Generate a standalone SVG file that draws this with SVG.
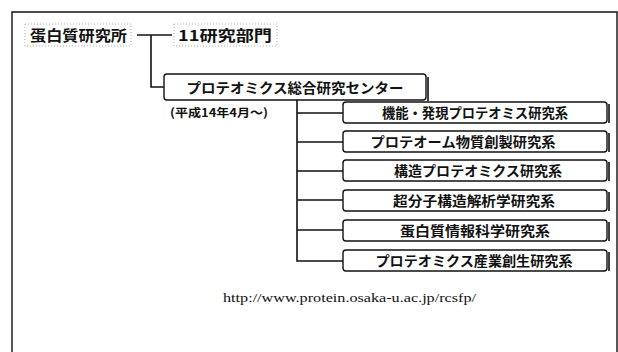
<svg xmlns="http://www.w3.org/2000/svg" width="618" height="352" viewBox="0 0 618 352">
<style>
.jp{font-family:"Noto Sans CJK JP","Noto Sans CJK SC",sans-serif;font-weight:bold;fill:#111;}
.box{fill:#fff;stroke:#111;stroke-width:1.4;}
.sh{fill:none;stroke:#111;stroke-width:1.6;}
.ln{fill:none;stroke:#111;stroke-width:1.6;}
.dot{fill:none;stroke:#999;stroke-width:0.8;stroke-dasharray:1 2;}
</style>
<rect width="618" height="352" fill="#fff"/>
<path d="M12,360 V12 H617 V360" fill="none" stroke="#111" stroke-width="1.4"/>
<g id="connectors">
<path class="ln" d="M137,35 H172"/>
<path class="ln" d="M151,35 V87 H164"/>
<path class="ln" d="M297,100 V261 H343"/>
<path class="ln" d="M297,113 H343 M297,142 H343 M297,171 H343 M297,200 H343 M297,230 H343"/>
</g>
<g id="n_institute">
<rect class="dot" x="25" y="24" width="106" height="22"/>
<text class="jp" x="30" y="41" font-size="15" textLength="97" lengthAdjust="spacingAndGlyphs">蛋白質研究所</text>
</g>
<g id="n_11dept">
<rect class="dot" x="174" y="24" width="103" height="22"/>
<text class="jp" x="178" y="41" font-size="15" textLength="94" lengthAdjust="spacingAndGlyphs">11研究部門</text>
</g>
<g id="n_center">
<rect class="box" x="164" y="74" width="262" height="26" rx="3"/>
<path class="sh" d="M428,77 V101"/>
<text class="jp" x="295" y="92.5" font-size="14" text-anchor="middle" textLength="217" lengthAdjust="spacingAndGlyphs">プロテオミクス総合研究センター</text>
<text class="jp" x="170" y="117" font-size="11.5" textLength="98" lengthAdjust="spacingAndGlyphs">(平成14年4月～)</text>
</g>
<g id="n_d1">
<rect class="box" x="343" y="102" width="264" height="21" rx="3"/>
<path class="sh" d="M609,104 V123"/>
<text class="jp" x="475" y="117.5" font-size="13.5" text-anchor="middle" textLength="186" lengthAdjust="spacingAndGlyphs">機能・発現プロテオミス研究系</text>
</g>
<g id="n_d2">
<rect class="box" x="343" y="131" width="264" height="21" rx="3"/>
<path class="sh" d="M609,133 V152"/>
<text class="jp" x="463" y="146.5" font-size="13.5" text-anchor="middle" textLength="185" lengthAdjust="spacingAndGlyphs">プロテオーム物質創製研究系</text>
</g>
<g id="n_d3">
<rect class="box" x="343" y="160" width="264" height="21" rx="3"/>
<path class="sh" d="M609,162 V181"/>
<text class="jp" x="478" y="175.5" font-size="13.5" text-anchor="middle" textLength="168" lengthAdjust="spacingAndGlyphs">構造プロテオミクス研究系</text>
</g>
<g id="n_d4">
<rect class="box" x="343" y="190" width="264" height="21" rx="3"/>
<path class="sh" d="M609,192 V211"/>
<text class="jp" x="474" y="205.5" font-size="13.5" text-anchor="middle" textLength="162" lengthAdjust="spacingAndGlyphs">超分子構造解析学研究系</text>
</g>
<g id="n_d5">
<rect class="box" x="343" y="220" width="264" height="21" rx="3"/>
<path class="sh" d="M609,222 V241"/>
<text class="jp" x="475" y="235.5" font-size="13.5" text-anchor="middle" textLength="150" lengthAdjust="spacingAndGlyphs">蛋白質情報科学研究系</text>
</g>
<g id="n_d6">
<rect class="box" x="343" y="250" width="264" height="21" rx="3"/>
<path class="sh" d="M609,252 V271"/>
<text class="jp" x="474" y="265.5" font-size="13.5" text-anchor="middle" textLength="197" lengthAdjust="spacingAndGlyphs">プロテオミクス産業創生研究系</text>
</g>
<text x="223" y="302" font-family="'Liberation Serif',serif" font-size="13" fill="#111" textLength="253" lengthAdjust="spacingAndGlyphs">http://www.protein.osaka-u.ac.jp/rcsfp/</text>
</svg>
